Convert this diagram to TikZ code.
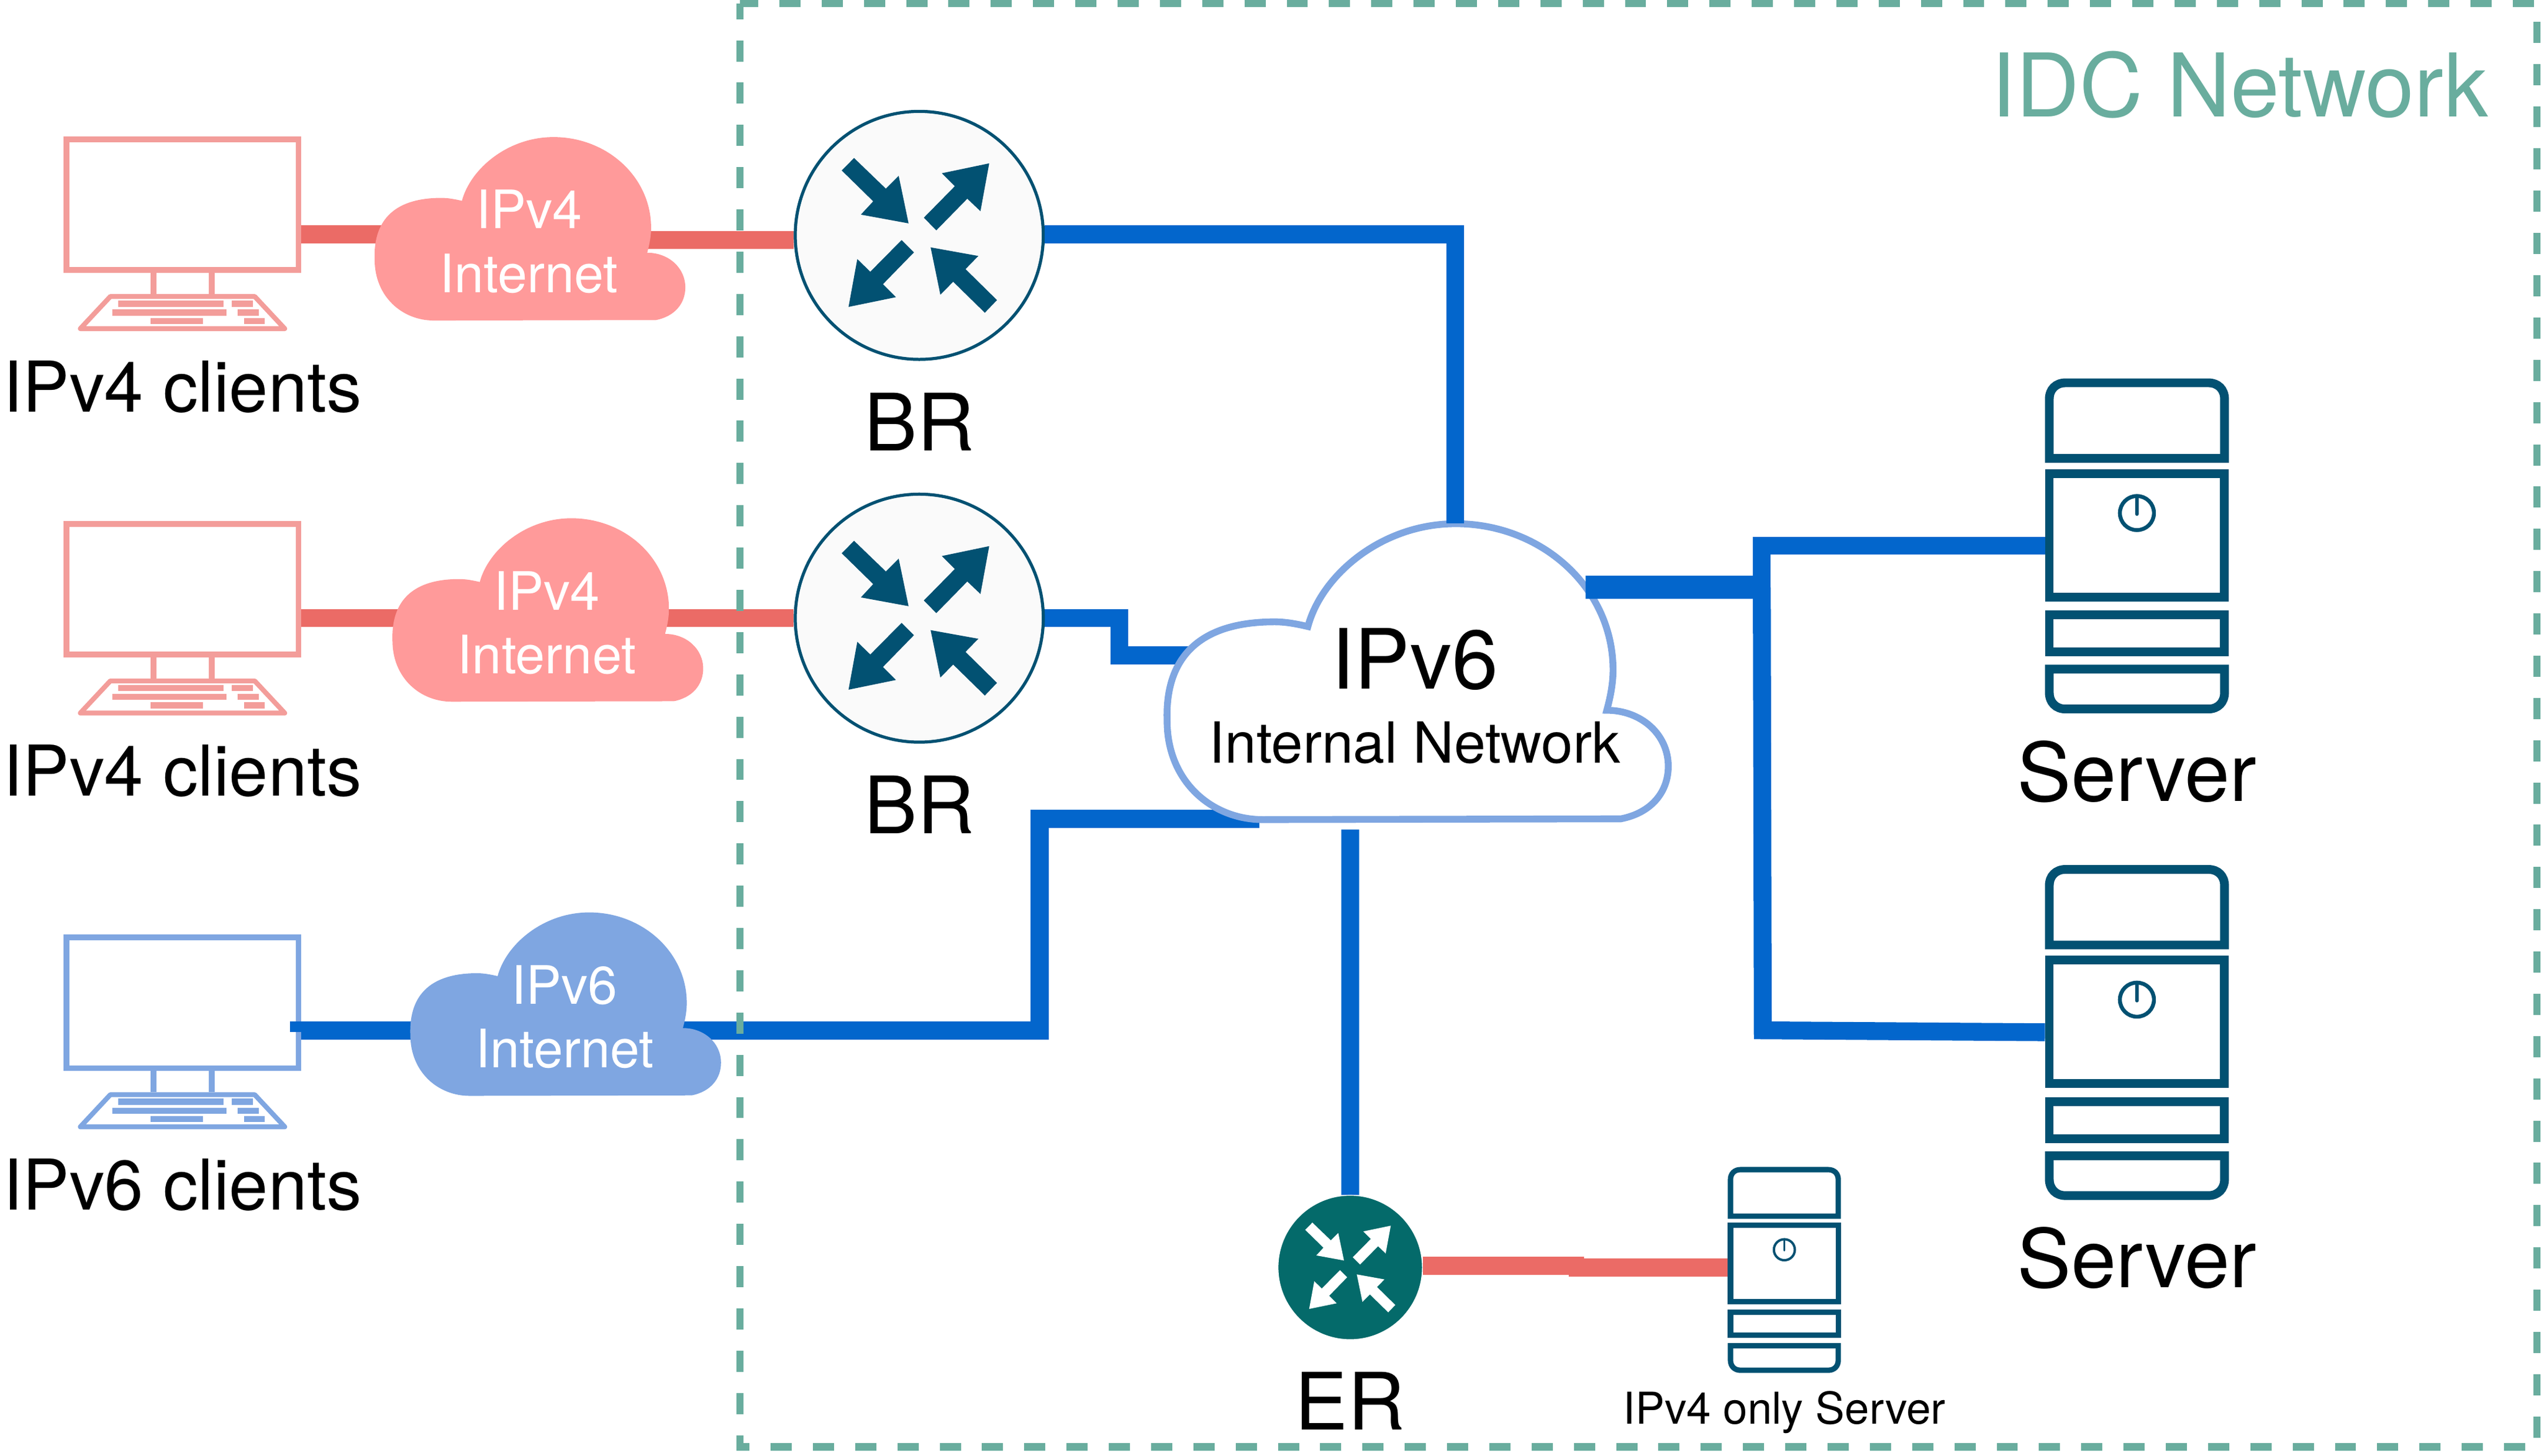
\documentclass[tikz,border=0pt]{standalone}
\usepackage{fontspec}
\setmainfont{TeX Gyre Heros}
\usetikzlibrary{positioning,backgrounds}
\definecolor{linered}{HTML}{EB6B66}
\definecolor{pcred}{HTML}{F39D9A}
\definecolor{cloudred}{HTML}{FF9A9A}
\definecolor{lineblue}{HTML}{0366CC}
\definecolor{cloudblue}{HTML}{7FA6E1}
\definecolor{idcgreen}{HTML}{69AD9E}
\definecolor{navy}{HTML}{025172}
\definecolor{erteal}{HTML}{046A6A}
\definecolor{brfill}{HTML}{FAFAFA}
\tikzset{
  pics/pc stand/.style={code={
    \draw[#1,line width=.036cm] (-17.8,41.8) -- (-17.8,55) (18,41.8) -- (18,55);
    \draw[#1,line width=.03cm,line join=round] (-44.5,56.6) -- (44.5,56.6) -- (63,76.4) -- (-63,76.4) -- cycle;
    \foreach \xa/\xb/\ya/\yb in {-39.8/25.1/59.1/62.9,30.3/43.3/59.1/62.9,-43.1/27/64.6/68.3,
        33.9/47.1/64.6/68.3,-19.6/12.5/69.8/73.6,37.8/50.8/69.8/73.6}
      \fill[#1] (\xa,\ya) rectangle (\xb,\yb);
  }},
  pics/cloud shape/.style={code={
    \path[#1] (-58.5,56.6) -- (78.3,56.3) .. controls (90,54) and (96.4,46) .. (96.4,36.2)
      .. controls (96.4,24) and (86,14.8) .. (72.9,14.8) .. controls (74.5,9) and (75.3,4) .. (75.3,-0.6)
      .. controls (75.3,-32) and (48,-56.5) .. (15.2,-56.5) .. controls (-13,-56.5) and (-36,-37) .. (-41.3,-17.2)
      .. controls (-46,-18.3) and (-50,-19) .. (-54,-19) .. controls (-81,-19) and (-96,-7) .. (-95.1,18.9)
      .. controls (-95.1,42) and (-78,56.6) .. (-58.5,56.6) -- cycle;
  }},
  pics/router arrows/.style={code={
    \fill[#1] (-40.2,-47.7) -- (-20.6,-28.8) -- (-12.7,-36.7) -- (-6.6,-7.4) -- (-36,-12.8) -- (-28.4,-21) -- (-47.8,-40) -- cycle;
    \fill[#1] (43.1,-44.4) -- (13.9,-38.3) -- (21.9,-30.3) -- (2.8,-10.9) -- (10.5,-3.1) -- (29.6,-22.6) -- (37.7,-14.9) -- cycle;
    \fill[#1] (-10.9,2.9) -- (-3.3,10.5) -- (-22.4,30.1) -- (-14.4,38.1) -- (-43.6,44.1) -- (-38.2,14.6) -- (-30.2,22.4) -- cycle;
    \fill[#1] (7,7.4) -- (36.4,12.7) -- (28.5,20.8) -- (47.9,39.9) -- (40.4,47.7) -- (20.9,28.6) -- (13,36.6) -- cycle;
  }},
  pics/server parts/.style={code={
    \draw[navy] (-54,-47.4) -- (-54,-84) .. controls (-54,-90) and (-50,-94) .. (-44,-94) -- (44,-94)
      .. controls (50,-94) and (54,-90) .. (54,-84) -- (54,-47.4) -- cycle;
    \draw[navy] (-54,49.1) rectangle (54,72);
    \draw[navy] (-54,82.5) -- (54,82.5) -- (54,97) .. controls (54,103) and (50,107.1) .. (44,107.1) -- (-44,107.1)
      .. controls (-50,107.1) and (-54,103) .. (-54,97) -- cycle;
    \draw[navy,line width=.667\pgflinewidth] (0,-13.7) circle[radius=10.5];
    \draw[navy,line width=.611\pgflinewidth,line cap=round] (0,-24) -- (0,-13);
  }}
}
\begin{document}
\begin{tikzpicture}[x=0.1mm,y=-0.1mm,inner sep=0pt,
  pc screen/.style={rectangle,draw=#1,line width=.036cm,minimum width=1.43cm,minimum height=.805cm},
  br node/.style={circle,draw=navy,fill=brfill,line width=.019cm,minimum size=1.529cm},
  er node/.style={circle,draw=white,fill=erteal,line width=.005cm,minimum size=.89cm},
  server box/.style={rectangle,draw=navy,line width=#1*.054cm,minimum width=#1*1.08cm,minimum height=#1*.762cm},
  cloud text/.style={align=center,text=white,font=\fontsize{9.3}{11.2}\selectfont},
  client text/.style={font=\fontsize{12.3}{14}\selectfont},
  big text/.style={font=\fontsize{13.9}{16}\selectfont},
  server text/.style={font=\fontsize{14.2}{16}\selectfont},
  red line/.style={draw=linered,line width=.11cm},
  blue line/.style={draw=lineblue,line width=.11cm},
  thick blue line/.style={draw=lineblue,line width=.1425cm},
  idc line/.style={draw=idcgreen,line width=.045cm,dash pattern=on .1303cm off .1303cm,dash phase=.018cm}]
    \useasboundingbox (0,0) rectangle (1568,897.3);
    \node[pc screen=pcred](PC1) at (112.5,126.2){};
    \node[pc screen=pcred,below=15.29mm of PC1](PC2){};
    \node[pc screen=cloudblue,below=17.1mm of PC2](PC3){};
    \node[client text,below=5.33mm of PC1](LPC1){IPv4 clients};
    \node[client text,below=5.33mm of PC2](LPC2){IPv4 clients};
    \node[client text,below=5.33mm of PC3](LPC3){IPv6 clients};
    \pic at (PC1) {pc stand=pcred};
    \pic at (PC2) {pc stand=pcred};
    \pic at (PC3) {pc stand=cloudblue};
    \node[cloud text](Cloud1) at (326,149){IPv4\\Internet};
    \node[cloud text](Cloud2) at (337,384){IPv4\\Internet};
    \node[cloud text](Cloud3) at (348,627){IPv6\\Internet};
    \node[br node](BR1) at (566.6,145.1){};
    \node[br node,below=8.12mm of BR1](BR2){};
    \pic at (BR1) {router arrows=navy};
    \pic at (BR2) {router arrows=navy};
    \node[big text,below=1.9mm of BR1](LBR1){BR};
    \node[big text,below=1.9mm of BR2](LBR2){BR};
    \node[align=center](V6) at (872,429.25){\fontsize{14.6}{15}\selectfont IPv6\\[1pt]\fontsize{9.95}{15}\selectfont Internal Network};
    \node[er node](ER) at (832.2,781.4){};
    \pic[scale=.58] at (ER) {router arrows=white};
    \node[big text,below=1.9mm of ER](LER){ER};
    \node[server box=1](SV1) at (1317.1,330){};
    \node[server box=1,below=21.84mm of SV1](SV2){};
    \node[server box=.615](SV3) at (1099.8,778.9){};
    \pic[line width=.054cm] at (SV1) {server parts};
    \pic[line width=.054cm] at (SV2) {server parts};
    \pic[scale=.615,line width=.033cm] at (SV3) {server parts};
    \node[server text,below=8.5mm of SV1](LSV1){Server};
    \node[server text,below=8.5mm of SV2](LSV2){Server};
    \node[font=\fontsize{7.7}{9}\selectfont,below=5.3mm of SV3](LSV3){IPv4 only Server};
    \node[text=idcgreen,font=\fontsize{15.4}{18}\selectfont,anchor=base](IDC) at (1380.5,71.8){IDC Network};
    \coordinate (hub) at (1085.9,362.1);
    \begin{scope}[on background layer]
      \path[red line] ([yshift=.46mm]Cloud1.center -| PC1.east) -- ([yshift=.46mm]Cloud1.center);
      \path[red line] ([yshift=.1mm]Cloud1.center) -- ([yshift=-.29mm]BR1.west);
      \path[red line] (Cloud2.center |- BR2.west) -- (PC2.east |- BR2.west);
      \path[red line] (Cloud2.center |- BR2.west) -- (BR2.west);
      \path[blue line] (Cloud3.center |- 0,635.3) -- (PC3.east |- 0,635.3);
      \path[blue line] ([yshift=-.83mm]Cloud3.center) -- ++(292.8,0) |- ([xshift=-9.57mm,yshift=-7.555mm]V6.center);
      \path[blue line] (BR2.east) -- ++(46,0) |- ([xshift=-13.7mm,yshift=2.525mm]V6.center);
      \path[blue line] (ER.north) -- ([xshift=-3.98mm,yshift=-8.215mm]V6.center);
      \path[red line] ([yshift=.1mm]ER.east) -- ++(99.5,0);
      \path[red line] ([yshift=-.26mm]SV3.west) -- ++(-98,0);
      \path[blue line] ([yshift=-.65mm]SV1.west) -| (hub);
      \path[blue line] ([yshift=-.64mm]SV2.west) -- ++(-173.9,-1.2) -- (hub);
      \pic at ([yshift=.8mm]Cloud1.center) {cloud shape={fill=cloudred}};
      \pic at ([yshift=.8mm]Cloud2.center) {cloud shape={fill=cloudred}};
      \pic at ([yshift=.8mm]Cloud3.center) {cloud shape={fill=cloudblue}};
      \pic[scale=1.613] at ([xshift=.075mm,yshift=1.525mm]V6.center) {cloud shape={fill=white,draw=cloudblue,line width=.042cm}};
      \path[idc line] (456.1,2.2) -- (1563.7,2.2) -- (1563.7,892) -- (456.1,892) -- cycle;
    \end{scope}
    \path[blue line] ([yshift=.07mm]BR1.east) -| ([xshift=2.5mm,yshift=10.665mm]V6.center);
    \path[thick blue line] ([xshift=10.53mm,yshift=6.715mm]V6.center) -- (hub);
    \path[draw=lineblue,line width=.065cm] (PC3.east |- 0,633) -- ++(-7,0);
\end{tikzpicture}
\end{document}
